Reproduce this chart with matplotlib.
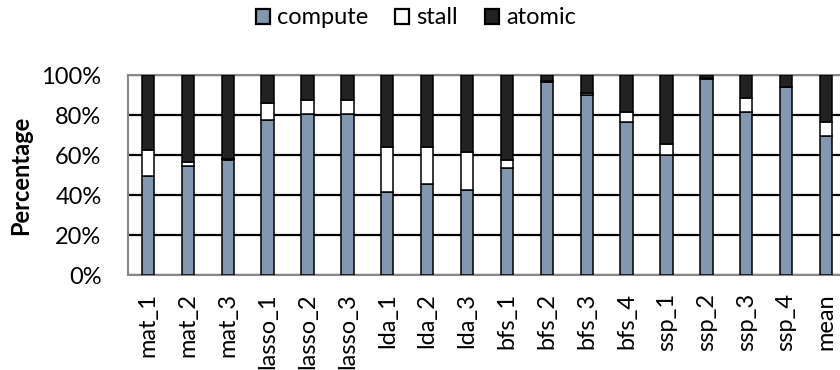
import numpy as np
import matplotlib.pyplot as plt
from matplotlib.ticker import PercentFormatter

plt.rcParams['font.family'] = ['Lato', 'DejaVu Sans']

labels = ['mat_1', 'mat_2', 'mat_3', 'lasso_1', 'lasso_2', 'lasso_3',
          'lda_1', 'lda_2', 'lda_3', 'bfs_1', 'bfs_2', 'bfs_3', 'bfs_4',
          'ssp_1', 'ssp_2', 'ssp_3', 'ssp_4', 'mean']
compute = [49.5, 54.5, 57.5, 77.5, 80.5, 80.5, 41.5, 45.5, 42.5, 53.5,
           96.5, 90.0, 76.5, 60.0, 98.0, 81.5, 93.8, 69.5]
stall = [13.0, 2.0, 0.5, 8.5, 7.0, 7.0, 22.5, 18.5, 19.0, 4.0,
         0.5, 1.0, 5.0, 5.5, 0.3, 7.0, 0.3, 7.0]
atomic = [100 - c - s for c, s in zip(compute, stall)]

fig = plt.figure(figsize=(8.4, 3.7), dpi=100)
# plot area runs a little past the right edge of the figure
ax = fig.add_axes([128 / 840, 1 - 275 / 370, 718 / 840, 200 / 370])

x = np.arange(len(labels))
w = 0.31
kw = dict(width=w, edgecolor='black', linewidth=1.1, zorder=3)
ax.bar(x, compute, color='#8497b0', label='compute', **kw)
ax.bar(x, stall, bottom=compute, color='white', label='stall', **kw)
ax.bar(x, atomic, bottom=np.add(compute, stall), color='#222222', label='atomic', **kw)

ax.set_xlim(-0.5, len(labels) - 0.5)
ax.set_ylim(0, 100)
ax.set_yticks(range(0, 101, 20))
ax.yaxis.set_major_formatter(PercentFormatter(decimals=0))
ax.yaxis.grid(True, color='black', linewidth=1.6, zorder=0)
ax.set_axisbelow(True)
for s in ax.spines.values():
    s.set_color('#888888')
    s.set_linewidth(1.5)

ax.set_xticks(x)
ax.set_xticklabels(labels, rotation=90, va='top', ha='center')
ax.tick_params(axis='both', length=0, labelsize=17)
ax.tick_params(axis='x', pad=13)
ax.tick_params(axis='y', pad=19)
ax.set_ylabel('Percentage', fontsize=17, fontweight='bold', labelpad=7)

leg = ax.legend(loc='center', bbox_to_anchor=(0.401, 1.285), ncol=3,
                frameon=False, fontsize=17, handlelength=0.6, handleheight=0.6,
                handletextpad=0.3, columnspacing=1.15, borderaxespad=0)
for h in leg.legend_handles:
    h.set_linewidth(1.6)

fig.savefig('out.png', dpi=100)
